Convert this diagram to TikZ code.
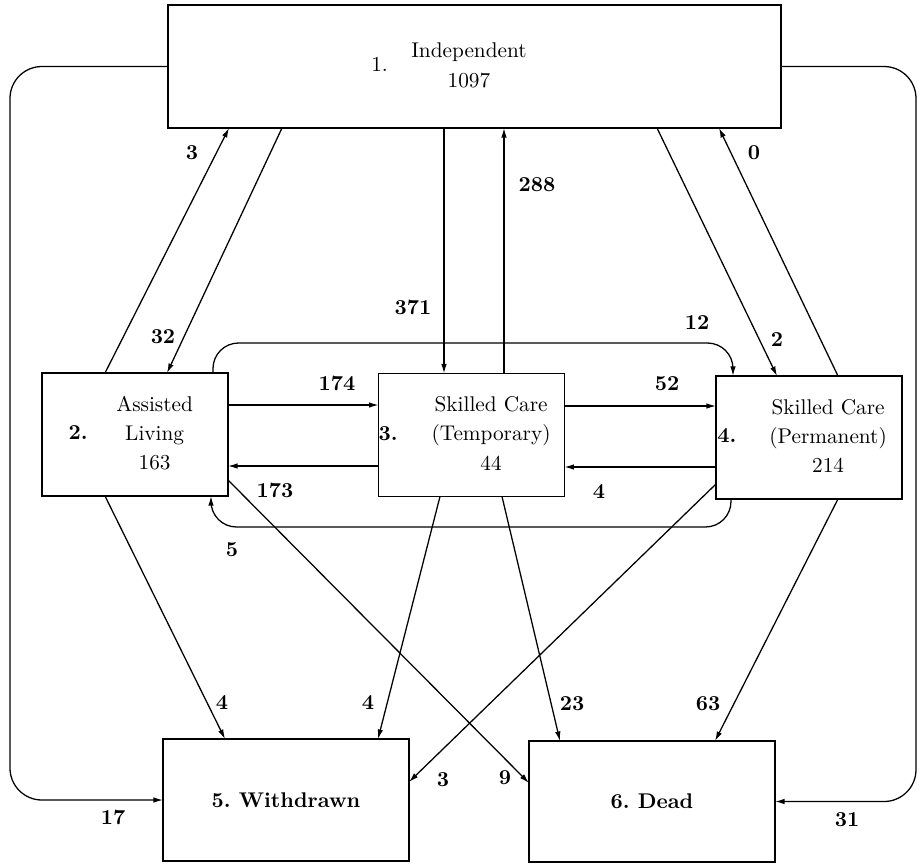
\documentclass[tikz,border=0pt]{standalone}
\usetikzlibrary{arrows.meta}
\renewcommand{\arraystretch}{1.15}
\begin{document}
\begin{tikzpicture}[x=0.47pt, y=-0.47pt, line width=0.6pt, font=\fontsize{10}{12}\selectfont,
        state/.style={draw, inner sep=0pt, outer sep=0pt, minimum height=123*0.47pt},
        num/.style={font=\fontsize{10}{12}\selectfont\bfseries},
        flow/.style={-{Latex[length=4.5pt, width=2.6pt]}}]
        \useasboundingbox (0,0) rectangle (920,863);
        \node[state, minimum width=613*0.47pt] (indep) at (474.5, 66.5) {1.\hspace{11pt}\begin{tabular}{@{}c@{}}Independent\\1097\end{tabular}\makebox[24pt]{}};
        \node[state, minimum width=186*0.47pt] (assisted) at (135, 434.5) {\textbf{2.}\hspace{13.5pt}\begin{tabular}{@{}c@{}}Assisted\\Living\\163\end{tabular}\makebox[4pt]{}};
        \node[state, minimum width=183*0.47pt] (skilledt) at (471.5, 435) {\textbf{3.}\hspace{16pt}\begin{tabular}{@{}c@{}}Skilled Care\\(Temporary)\\44\end{tabular}\makebox[6.5pt]{}};
        \node[state, minimum width=186*0.47pt] (skilledp) at (809, 437.5) {\textbf{4.}\hspace{15.5pt}\begin{tabular}{@{}c@{}}Skilled Care\\(Permanent)\\214\end{tabular}\makebox[6.5pt]{}};
        \node[state, minimum width=246*0.47pt, minimum height=122*0.47pt, num] (withdrawn) at (286, 800) {5.\ Withdrawn};
        \node[state, minimum width=246*0.47pt, minimum height=121*0.47pt, num] (dead) at (652, 801.5) {6.\ Dead};

        \coordinate (lside) at (10, 0);
        \coordinate (rside) at (916, 0);
        \coordinate (topl) at (213, 343);
        \coordinate (topr) at (733, 343);
        \coordinate (botr) at (731, 527);
        \coordinate (botl) at (211, 527);

        \draw[flow] (assisted.north -| 105,0) -- (indep.south -| 229,0);
        \draw[flow] (indep.south -| 282,0) -- (assisted.north -| 167,0);
        \draw[flow] (indep.south -| 444,0) -- (skilledt.north -| 444,0);
        \draw[flow] (skilledt.north -| 504,0) -- (indep.south -| 504,0);
        \draw[flow] (indep.south -| 657,0) -- (skilledp.north -| 777,0);
        \draw[flow] (skilledp.north -| 838,0) -- (indep.south -| 719,0);
        \draw[flow] (assisted.east |- 0,405) -- (skilledt.west |- 0,405);
        \draw[flow] (skilledt.west |- 0,466) -- (assisted.east |- 0,466);
        \draw[flow] (skilledt.east |- 0,406) -- (skilledp.west |- 0,406);
        \draw[flow] (skilledp.west |- 0,467) -- (skilledt.east |- 0,467);
        \draw[flow] (assisted.south -| 105,0) -- (withdrawn.north -| 225,0);
        \draw[flow] (assisted.east |- 0,480) -- (dead.west |- 0,783);
        \draw[flow] (skilledt.south -| 440,0) -- (withdrawn.north -| 378,0);
        \draw[flow] (skilledt.south -| 502,0) -- (dead.north -| 560,0);
        \draw[flow] (skilledp.west |- 0,484) -- (withdrawn.east |- 0,782);
        \draw[flow] (skilledp.south -| 838,0) -- (dead.north -| 715,0);
        \draw[flow, rounded corners=15pt] (indep.west) -| (withdrawn.west -| lside) -- (withdrawn.west);
        \draw[flow, rounded corners=15pt] (indep.east) -| (dead.east -| rside) -- (dead.east);
        \draw[flow, rounded corners=12pt] (assisted.north -| topl) -- (topl) -- (topr) -- (skilledp.north -| topr);
        \draw[flow, rounded corners=12pt] (skilledp.south -| botr) -- (botr) -- (botl) -- (assisted.south -| botl);

        \node[num] (l3a) at (192, 153) {3};
        \node[num] (l32) at (163, 337) {32};
        \node[num] (l371) at (413, 307) {371};
        \node[num] (l288) at (537, 185) {288};
        \node[num] (l2) at (777, 340) {2};
        \node[num] (l0) at (754, 153) {0};
        \node[num] (l12) at (697, 323) {12};
        \node[num] (l174) at (337, 383) {174};
        \node[num] (l173) at (275, 490) {173};
        \node[num] (l52) at (667, 384) {52};
        \node[num] (l4a) at (599, 492) {4};
        \node[num] (l5) at (232, 550) {5};
        \node[num] (l4b) at (222, 703) {4};
        \node[num] (l4c) at (368, 703) {4};
        \node[num] (l23) at (572, 704) {23};
        \node[num] (l63) at (708, 704) {63};
        \node[num] (l3b) at (443, 780) {3};
        \node[num] (l9) at (505, 778) {9};
        \node[num] (l17) at (113, 817) {17};
        \node[num] (l31) at (847, 820) {31};
    \end{tikzpicture}
\end{document}
